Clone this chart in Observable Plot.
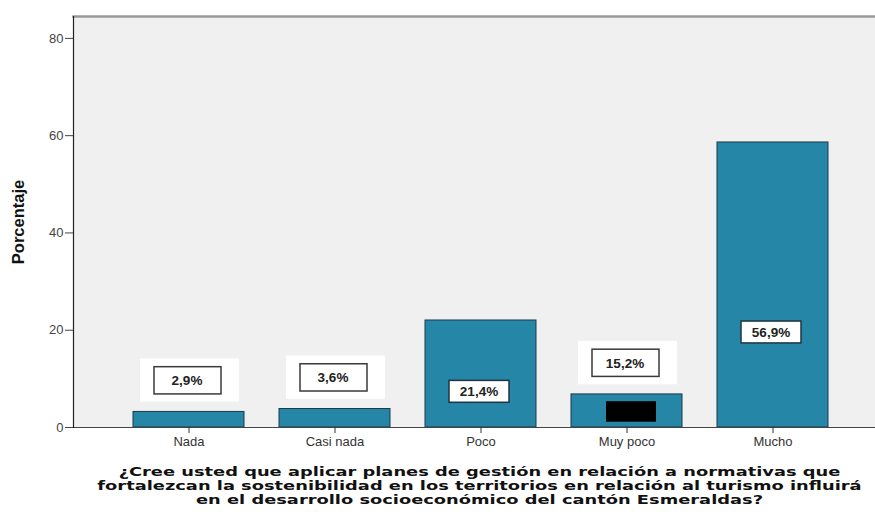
<!DOCTYPE html>
<html><head><meta charset="utf-8">
<script src="https://cdn.jsdelivr.net/npm/d3@7"></script>
<script src="https://cdn.jsdelivr.net/npm/@observablehq/plot@0.6"></script>
<style>
body{margin:0;background:#fff}
#chart svg{display:block}
</style>
</head><body><div id="chart"></div>
<script>
const categories = ["Nada", "Casi nada", "Poco", "Muy poco", "Mucho"];
const barHeights = [3.2, 3.8, 22.0, 6.8, 58.6];
const labels = ["2,9%", "3,6%", "21,4%", "15,2%", "56,9%"];
const redacted = ["Muy poco"];
const yTicks = [0, 20, 40, 60, 80];
const yLabel = "Porcentaje";
const titleLines = [
  "¿Cree usted que aplicar planes de gestión en relación a normativas que",
  "fortalezcan la sostenibilidad en los territorios en relación al turismo influirá",
  "en el desarrollo socioeconómico del cantón Esmeraldas?"
];

const data = categories.map((c, i) => ({cat: c, value: barHeights[i], label: labels[i], inside: barHeights[i] > 15}));
data.forEach(d => d.ly = d.inside ? d.value / 3 : d.value + 6.4);
const outside = data.filter(d => !d.inside);
const inside = data.filter(d => d.inside);

const chart = Plot.plot({
  width: 875,
  height: 512,
  marginTop: 16,
  marginBottom: 85,
  marginLeft: 73,
  marginRight: 0,
  style: {fontFamily: "'Liberation Sans', Arial, sans-serif", background: "#fff"},
  x: {domain: categories, range: [114.25, 846.75], paddingInner: 0.24, paddingOuter: 0.12},
  y: {domain: [0, 84.5]},
  marks: [
    Plot.frame({fill: "#f0f0f0", stroke: null}),
    Plot.frame({anchor: "top", stroke: "#9a9a9a", strokeWidth: 2.5}),
    Plot.barY(outside, {x: "cat", y1: d => d.ly - 4.4, y2: d => d.ly + 4.5, fill: "#ffffff", insetLeft: 7, insetRight: 5}),
    Plot.barY(data, {x: "cat", y: "value", fill: "#2586a8", stroke: "#1b3a48", strokeWidth: 1}),
    Plot.barY(data.filter(d => redacted.includes(d.cat)), {x: "cat", y1: d => d.value * 0.16, y2: d => d.value * 0.78, fill: "#000", insetLeft: 35, insetRight: 26}),
    Plot.barY(outside, {x: "cat", y1: d => d.ly - 2.8, y2: d => d.ly + 2.8, fill: "#fff", stroke: "#3a3a3a", strokeWidth: 1.5, insetLeft: 21, insetRight: 23}),
    Plot.barY(inside, {x: "cat", y1: d => d.ly - 2.25, y2: d => d.ly + 2.25, fill: "#fff", stroke: "#1e3440", strokeWidth: 1.5, insetLeft: 24, insetRight: 27}),
    Plot.text(data, {x: "cat", y: "ly", text: "label", dx: -2, fontWeight: "bold", fontSize: 13.5, fill: "#222", letterSpacing: 0.8}),
    Plot.ruleY([0], {stroke: "#444", strokeWidth: 1.2}),
    Plot.frame({anchor: "left", stroke: "#222", strokeWidth: 1.2}),
    Plot.axisY({ticks: yTicks, tickSize: 8, tickPadding: 2, fontSize: 13, color: "#444", label: null}),
    Plot.axisX({tickSize: 6, tickPadding: 3, fontSize: 13, color: "#333", label: null, letterSpacing: 0.5}),
    Plot.text([yLabel], {frameAnchor: "left", textAnchor: "middle", rotate: -90, dx: -55, fontWeight: "bold", fontSize: 16.5, letterSpacing: 0.3, fill: "#111"}),
    Plot.text([titleLines.join("\n")], {frameAnchor: "bottom", textAnchor: "middle", lineAnchor: "top", dy: 39, dx: 5, lineHeight: 1.1, fontWeight: "bold", fontSize: 12.5, fontFamily: "'DejaVu Sans', Verdana, sans-serif", fill: "#111"})
  ]
});
document.getElementById("chart").appendChild(chart);

// the reference's question text is drawn horizontally stretched; widen it around its own centre
for (const qt of chart.querySelectorAll("text")) {
  if (!qt.textContent.startsWith("¿Cree")) continue;
  const bb = qt.getBBox();
  if (!(bb.width > 0)) continue;
  const cx = bb.x + bb.width / 2;
  const s = 765 / bb.width;
  const prev = qt.getAttribute("transform") || "";
  qt.setAttribute("transform", `${prev} translate(${cx},0) scale(${s},1) translate(${-cx},0)`);
}
</script>
</body></html>
